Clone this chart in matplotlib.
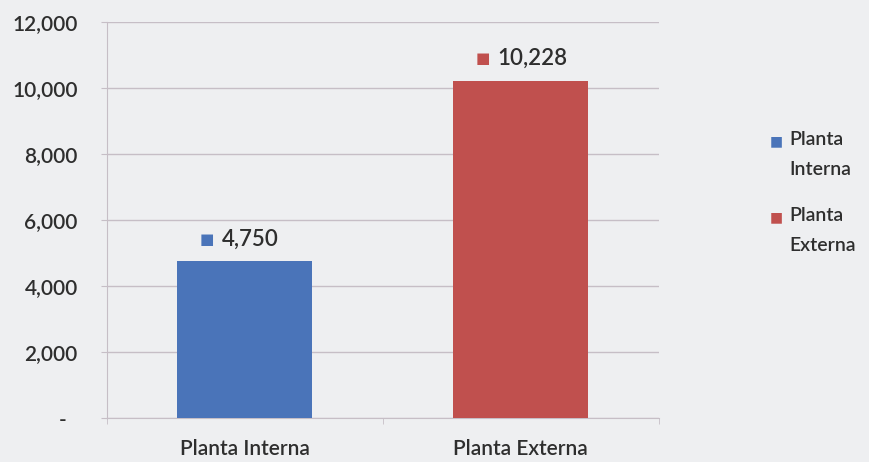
import matplotlib.pyplot as plt
from matplotlib.ticker import FuncFormatter

categories = ["Planta Interna", "Planta Externa"]
values = [4750, 10228]
legend_labels = ["Planta\nInterna", "Planta\nExterna"]
colors = ["#4a74b9", "#c0504e"]

bg = "#eeeff1"
text_color = "#2e2e2e"
line_color = "#c6bec6"
plt.rcParams["font.family"] = ["Lato", "DejaVu Sans"]
plt.rcParams["font.weight"] = "semibold"

fig = plt.figure(figsize=(8.69, 4.62), dpi=100, facecolor=bg)
ax = fig.add_axes([0.123, 0.095, 0.635, 0.857], facecolor=bg)

x = range(len(categories))
ax.bar(x, values, width=0.49, color=colors, zorder=3)

ax.set_xlim(-0.5, len(categories) - 0.5)
ax.set_ylim(0, 12000)
ax.set_yticks(range(0, 12001, 2000))
ax.yaxis.set_major_formatter(
    FuncFormatter(lambda v, _: "-  " if v == 0 else f"{int(v):,}")
)
ax.set_xticks(list(x))
ax.set_xticklabels(categories)
ax.set_xticks([-0.5, 0.5, 1.5], minor=True)
ax.tick_params(axis="x", which="major", length=0, pad=15)
ax.tick_params(axis="x", which="minor", length=4, color=line_color)
ax.tick_params(axis="y", length=4, color=line_color, pad=17)
ax.tick_params(labelsize=15, labelcolor=text_color)

ax.grid(axis="y", color=line_color, linewidth=1, zorder=0)
for side in ["top", "right"]:
    ax.spines[side].set_visible(False)
for side in ["left", "bottom"]:
    ax.spines[side].set_color(line_color)

# data labels: coloured key square + value above each bar
for i, v in enumerate(values):
    ax.annotate("■", (i, v), xytext=(-38, 22), textcoords="offset pixels",
                ha="center", va="center", color=colors[i], fontsize=11,
                family="DejaVu Sans")
    ax.annotate(f"{v:,}", (i, v), xytext=(-23, 22), textcoords="offset pixels",
                ha="left", va="center", color=text_color, fontsize=16)

# legend drawn by hand to match the tall two-line entries
W, H = 869, 462
for k, (lab, c) in enumerate(zip(legend_labels, colors)):
    y = 141 + k * 76
    fig.text(776 / W, 1 - y / H, "■", color=c, fontsize=10,
             family="DejaVu Sans", ha="center", va="center")
    fig.text(789 / W, 1 - (y - 10) / H, lab, color=text_color, fontsize=14,
             ha="left", va="top", linespacing=1.95)

plt.savefig("out.png", dpi=100, facecolor=bg)
